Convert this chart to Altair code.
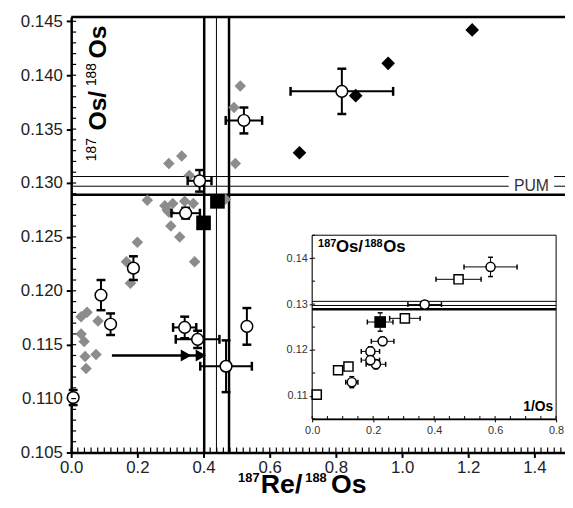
import altair as alt
import pandas as pd

# ---------------- data ----------------
# grey diamonds
gx = [0.511, 0.492, 0.496, 0.295, 0.334, 0.357, 0.230, 0.283, 0.290, 0.307, 0.295, 0.343, 0.369,
      0.466, 0.301, 0.328, 0.200, 0.373, 0.167, 0.179, 0.048, 0.030, 0.081, 0.030, 0.039, 0.042,
      0.075, 0.045]
gy = [0.1390, 0.1370, 0.1318, 0.1318, 0.1325, 0.1307, 0.1284, 0.1279, 0.1275, 0.1281, 0.1273, 0.1283,
      0.1281, 0.1285, 0.1260, 0.1250, 0.1245, 0.1227, 0.1227, 0.1207, 0.1180, 0.1176, 0.1172, 0.1160,
      0.1153, 0.1139, 0.1141, 0.1128]
# black diamonds
bx = [1.212, 0.958, 0.860, 0.690]
by = [0.1442, 0.1411, 0.1381, 0.1328]
# open circles with error bars (main panel)
cx = [0.818, 0.522, 0.388, 0.346, 0.188, 0.090, 0.119, 0.006, 0.343, 0.382, 0.468, 0.531]
cy = [0.1385, 0.1358, 0.1302, 0.1272, 0.1221, 0.1196, 0.1169, 0.1101, 0.1166, 0.1155, 0.1130, 0.1167]
cxe = [0.155, 0.055, 0.036, 0.043, 0.012, 0.0, 0.0, 0.0, 0.035, 0.066, 0.078, 0.0]
cye = [0.0021, 0.0012, 0.0010, 0.0005, 0.0011, 0.0014, 0.0010, 0.0007, 0.0010, 0.0008, 0.0024, 0.0017]
# black squares (main panel)
sx = [0.400, 0.442]
sy = [0.1263, 0.1283]
# arrow
arrow_x = [0.123, 0.392]
arrow_y = [0.1140]
arrow_heads = [0.347, 0.392]
# reference lines
vline_x = [0.402, 0.439, 0.477]
vline_w = [2.5, 1.0, 2.5]
hline_y = [0.1306, 0.1297, 0.1289]
hline_w = [1.0, 1.0, 2.5]
# inset data
ix = [0.585, 0.480, 0.369, 0.304, 0.231, 0.191, 0.209, 0.191, 0.085, 0.119, 0.130, 0.015]
iy = [0.1381, 0.1354, 0.1299, 0.1269, 0.1219, 0.1197, 0.1169, 0.1178, 0.1156, 0.1164, 0.1130, 0.1103]
ixe = [0.087, 0.074, 0.055, 0.050, 0.037, 0.030, 0.032, 0.030, 0.0, 0.0, 0.020, 0.0]
iye = [0.0021, 0.0005, 0.0008, 0.0005, 0.0009, 0.0010, 0.0010, 0.0010, 0.0, 0.0, 0.0012, 0.0]
ishape = ["circle", "square", "circle", "square", "circle", "circle", "circle", "circle",
          "square", "square", "circle", "square"]
ibx = [0.223]
iby = [0.1261]
ibxe = [0.042]
ibye = [0.0020]

# tick values / labels
x_major = [0.0, 0.2, 0.4, 0.6, 0.8, 1.0, 1.2, 1.4]
y_major = [0.105, 0.110, 0.115, 0.120, 0.125, 0.130, 0.135, 0.140, 0.145]
x_minor = [i / 50 for i in range(0, 75)]
y_minor = [0.105 + i / 1000 for i in range(0, 41)]
ix_major = [0.0, 0.2, 0.4, 0.6, 0.8]
iy_major = [0.11, 0.12, 0.13, 0.14]
ix_minor = [i / 20 for i in range(0, 17)]
iy_minor = [0.105 + i / 200 for i in range(0, 9)]

FONT = "Liberation Sans"
W, H = 500, 441
xs = alt.Scale(domain=[0, 1.4925], nice=False, zero=False)
ys = alt.Scale(domain=[0.105, 0.1454], nice=False, zero=False)
IX0, IX1, IY0, IY1 = 244, 491, 407, 221
ixs = alt.Scale(domain=[0, 0.8], range=[IX0, IX1], nice=False, zero=False)
iys = alt.Scale(domain=[0.105, 0.145], range=[IY0, IY1], nice=False, zero=False)

main_x_axis = alt.Axis(values=x_major, format=".1f", title=None, grid=False, tickSize=5,
                       tickWidth=2, tickColor="black", domainWidth=2.5, domainColor="black",
                       labelFontSize=17, labelColor="#222", labelPadding=2, labelFlush=False,
                       labelOverlap=False, labelFont=FONT, orient="bottom")
main_y_axis = alt.Axis(values=y_major, format=".3f", title=None, grid=False, tickSize=5,
                       tickWidth=2, tickColor="black", domainWidth=2.5, domainColor="black",
                       labelFontSize=17, labelColor="#222", labelPadding=4,
                       labelOverlap=False, labelFont=FONT, orient="left")
ins_x_axis = alt.Axis(values=ix_major, format=".1f", title=None, grid=False, tickSize=3,
                      tickColor="black", domainWidth=1.5, domainColor="black", orient="bottom",
                      offset=-(H - IY0), labelFontSize=11, labelColor="#333", labelPadding=3,
                      labelFlush=False, labelOverlap=False, labelFont=FONT)
ins_y_axis = alt.Axis(values=iy_major, format=".2f", title=None, grid=False, tickSize=3,
                      tickColor="black", domainWidth=1.5, domainColor="black", orient="left",
                      offset=-IX0, labelFontSize=11, labelColor="#333", labelPadding=2,
                      labelOverlap=False, labelFont=FONT)


def text_layer(s, x, y, size, weight="normal", angle=0, align="left", baseline="alphabetic",
               color="black"):
    return alt.Chart(pd.DataFrame({"t": [s]})).mark_text(
        font=FONT, fontSize=size, fontWeight=weight, angle=angle, align=align,
        baseline=baseline, color=color
    ).encode(x=alt.value(x), y=alt.value(y), text="t:N")


# ---------------- main panel ----------------
df_v = pd.DataFrame({"x": vline_x, "w": vline_w})
df_h = pd.DataFrame({"y": hline_y, "w": hline_w})

vlines = alt.Chart(df_v).mark_rule(color="black").encode(
    x=alt.X("x:Q", scale=xs, axis=main_x_axis),
    strokeWidth=alt.StrokeWidth("w:Q", scale=None))
hlines = alt.Chart(df_h).mark_rule(color="black").encode(
    y=alt.Y("y:Q", scale=ys, axis=main_y_axis),
    strokeWidth=alt.StrokeWidth("w:Q", scale=None))

pum_bg = alt.Chart(pd.DataFrame({"a": [0]})).mark_rect(fill="white").encode(
    x=alt.value(443), x2=alt.value(489), y=alt.value(161), y2=alt.value(177))
pum_txt = text_layer("PUM", 466, 171, 16, align="center", baseline="middle", color="#333")

top_border = alt.Chart(pd.DataFrame({"a": [0]})).mark_rule(color="black", strokeWidth=2.5).encode(
    x=alt.value(0), x2=alt.value(W), y=alt.value(0))

xminor = alt.Chart(pd.DataFrame({"v": x_minor})).mark_rule(color="black", strokeWidth=1.2).encode(
    x=alt.X("v:Q", scale=xs, axis=None), y=alt.value(H), y2=alt.value(H - 5))
yminor = alt.Chart(pd.DataFrame({"v": y_minor})).mark_rule(color="black", strokeWidth=1.2).encode(
    y=alt.Y("v:Q", scale=ys, axis=None), x=alt.value(0), x2=alt.value(5))

grey = alt.Chart(pd.DataFrame({"x": gx, "y": gy})).mark_point(
    shape="diamond", filled=True, color="#8c8c8c", size=135, opacity=1).encode(
    x=alt.X("x:Q", scale=xs, axis=None), y=alt.Y("y:Q", scale=ys, axis=None))
blackd = alt.Chart(pd.DataFrame({"x": bx, "y": by})).mark_point(
    shape="diamond", filled=True, color="black", size=190, opacity=1).encode(
    x=alt.X("x:Q", scale=xs, axis=None), y=alt.Y("y:Q", scale=ys, axis=None))


def errbars(df, xsc, ysc, sw, cap, capw):
    base = alt.Chart(df).transform_calculate(
        x1="datum.x - datum.xe", x2="datum.x + datum.xe",
        y1="datum.y - datum.ye", y2="datum.y + datum.ye")
    hx = base.transform_filter("datum.xe > 0").mark_rule(color="black", strokeWidth=sw).encode(
        x=alt.X("x1:Q", scale=xsc, axis=None), x2="x2:Q", y=alt.Y("y:Q", scale=ysc, axis=None))
    vy = base.transform_filter("datum.ye > 0").mark_rule(color="black", strokeWidth=sw).encode(
        y=alt.Y("y1:Q", scale=ysc, axis=None), y2="y2:Q", x=alt.X("x:Q", scale=xsc, axis=None))
    cx_ = base.transform_filter("datum.xe > 0").transform_fold(["x1", "x2"], as_=["k", "xc"]).mark_tick(
        orient="vertical", color="black", size=cap, thickness=capw, opacity=1).encode(
        x=alt.X("xc:Q", scale=xsc, axis=None), y=alt.Y("y:Q", scale=ysc, axis=None))
    cy_ = base.transform_filter("datum.ye > 0").transform_fold(["y1", "y2"], as_=["k", "yc"]).mark_tick(
        orient="horizontal", color="black", size=cap, thickness=capw, opacity=1).encode(
        y=alt.Y("yc:Q", scale=ysc, axis=None), x=alt.X("x:Q", scale=xsc, axis=None))
    return [hx, vy, cx_, cy_]


df_c = pd.DataFrame({"x": cx, "y": cy, "xe": cxe, "ye": cye})
main_err = errbars(df_c, xs, ys, 2, 9, 2.5)
circles = alt.Chart(df_c).mark_point(
    shape="circle", filled=True, fill="white", stroke="black", strokeWidth=1.5, size=140,
    opacity=1).encode(x=alt.X("x:Q", scale=xs, axis=None), y=alt.Y("y:Q", scale=ys, axis=None))
squares = alt.Chart(pd.DataFrame({"x": sx, "y": sy})).mark_point(
    shape="square", filled=True, color="black", size=220, opacity=1).encode(
    x=alt.X("x:Q", scale=xs, axis=None), y=alt.Y("y:Q", scale=ys, axis=None))

arrow_shaft = alt.Chart(pd.DataFrame({"x1": [arrow_x[0]], "x2": [arrow_x[1]], "y": arrow_y})).mark_rule(
    color="black", strokeWidth=2.5).encode(
    x=alt.X("x1:Q", scale=xs, axis=None), x2="x2:Q", y=alt.Y("y:Q", scale=ys, axis=None))
arrow_tips = alt.Chart(pd.DataFrame({"x": arrow_heads, "y": arrow_y * len(arrow_heads)})).mark_point(
    shape="triangle-right", filled=True, color="black", size=150, opacity=1).encode(
    x=alt.X("x:Q", scale=xs, axis=None), y=alt.Y("y:Q", scale=ys, axis=None))

# axis titles as text (superscripts drawn as smaller text)
ytitle = [
    text_layer("187", 25, 146, 14, angle=270),
    text_layer("Os/", 35, 115, 25, weight="bold", angle=270),
    text_layer("188", 25, 70, 14, angle=270),
    text_layer("Os", 35, 42, 25, weight="bold", angle=270),
]
xtitle = [
    text_layer("187", 169, 471, 13, weight="bold"),
    text_layer("Re/", 192, 482, 27, weight="bold"),
    text_layer("188", 237, 471, 13, weight="bold"),
    text_layer("Os", 263, 482, 27, weight="bold"),
]

# ---------------- inset ----------------
box = alt.Chart(pd.DataFrame({"x0": [0.0], "x1": [0.8], "y0": [0.105], "y1": [0.145]})).mark_rect(
    fill="white", stroke="black", strokeWidth=1).encode(
    x=alt.X("x0:Q", scale=ixs, axis=ins_x_axis), x2="x1:Q",
    y=alt.Y("y0:Q", scale=iys, axis=ins_y_axis), y2="y1:Q")
ihl = alt.Chart(pd.DataFrame({"y": hline_y, "w": hline_w, "x0": [0.0] * 3, "x1": [0.8] * 3})).mark_rule(
    color="black").encode(
    x=alt.X("x0:Q", scale=ixs, axis=None), x2="x1:Q",
    y=alt.Y("y:Q", scale=iys, axis=None),
    strokeWidth=alt.StrokeWidth("w:Q", scale=None))
ixminor = alt.Chart(pd.DataFrame({"v": ix_minor})).mark_rule(color="black", strokeWidth=1).encode(
    x=alt.X("v:Q", scale=ixs, axis=None), y=alt.value(IY0), y2=alt.value(IY0 - 3))
iyminor = alt.Chart(pd.DataFrame({"v": iy_minor})).mark_rule(color="black", strokeWidth=1).encode(
    y=alt.Y("v:Q", scale=iys, axis=None), x=alt.value(IX0), x2=alt.value(IX0 + 3))

df_i = pd.DataFrame({"x": ix, "y": iy, "xe": ixe, "ye": iye, "s": ishape})
df_ib = pd.DataFrame({"x": ibx, "y": iby, "xe": ibxe, "ye": ibye})
ins_err = errbars(df_i, ixs, iys, 1, 5, 1.5) + errbars(df_ib, ixs, iys, 1, 5, 1.5)
ipts = alt.Chart(df_i).mark_point(
    filled=True, fill="white", stroke="black", strokeWidth=1.5, size=85, opacity=1).encode(
    x=alt.X("x:Q", scale=ixs, axis=None), y=alt.Y("y:Q", scale=iys, axis=None),
    shape=alt.Shape("s:N", scale=None))
ibsq = alt.Chart(df_ib).mark_point(shape="square", filled=True, color="black", size=140,
                                   opacity=1).encode(
    x=alt.X("x:Q", scale=ixs, axis=None), y=alt.Y("y:Q", scale=iys, axis=None))

ititle = [
    text_layer("187", 250, 233, 11, weight="bold"),
    text_layer("Os/", 268, 238, 17, weight="bold"),
    text_layer("188", 297, 233, 11, weight="bold"),
    text_layer("Os", 316, 238, 17, weight="bold"),
    text_layer("1/Os", 488, 399, 14, weight="bold", align="right"),
]

layers = [vlines, hlines, grey, blackd, *main_err, circles, squares, arrow_shaft, arrow_tips,
          pum_bg, pum_txt, top_border, xminor, yminor, *ytitle, *xtitle,
          box, ihl, ixminor, iyminor, *ins_err, ipts, ibsq, *ititle]

chart = alt.layer(*layers).resolve_scale(x="independent", y="independent").properties(
    width=W, height=H, autosize="none",
    padding={"left": 64, "top": 6, "right": 0, "bottom": 44}
).configure_view(strokeWidth=0).configure_axis(labelFont=FONT)

chart.save("out.html", embed_options={"renderer": "svg", "actions": False})
